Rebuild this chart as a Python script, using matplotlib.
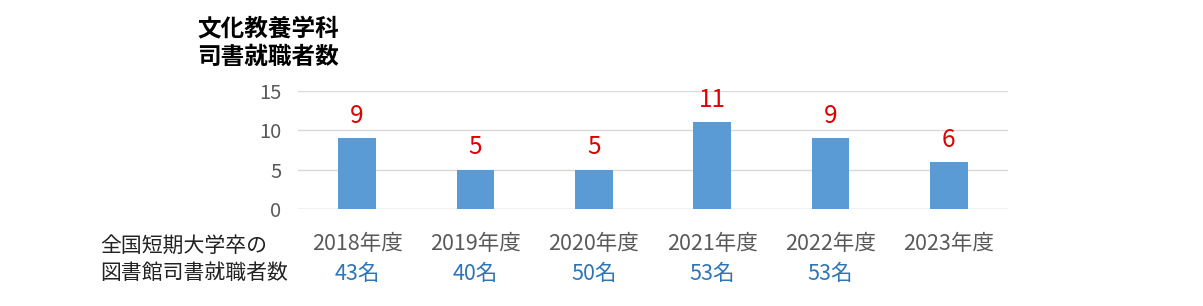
import matplotlib
matplotlib.use("Agg")
import matplotlib.pyplot as plt

plt.rcParams['font.family'] = ['Noto Sans CJK JP', 'DejaVu Sans']

years = ["2018年度", "2019年度", "2020年度", "2021年度", "2022年度", "2023年度"]
counts = [9, 5, 5, 11, 9, 6]
national = ["43名", "40名", "50名", "53名", "53名", ""]
yticks = [0, 5, 10, 15]

W, H = 1203, 306
fig = plt.figure(figsize=(W / 100, H / 100), dpi=100)
ax = fig.add_axes([298 / W, 1 - 209 / H, 710 / W, 118 / H])

x = list(range(len(years)))
ax.bar(x, counts, width=0.32, color="#5B9BD5", zorder=3)
ax.set_xlim(-0.5, len(years) - 0.5)
ax.set_ylim(0, 15)
ax.set_yticks(yticks)
ax.set_yticklabels([str(t) for t in yticks], fontsize=14.5, color="#595959")
ax.tick_params(axis='y', length=0, pad=12)
ax.set_xticks([])
ax.grid(axis='y', color="#D9D9D9", linewidth=1, zorder=0)
for s in ax.spines.values():
    s.set_visible(False)
ax.axhline(0, color="#D9D9D9", linewidth=1, zorder=1)

for xi, c in zip(x, counts):
    ax.annotate(str(c), (xi, c), xytext=(0, 16), textcoords="offset points",
                ha="center", va="center", color="#E00000", fontsize=17.5)

for xi, yl, nl in zip(x, years, national):
    ax.annotate(yl, (xi, 0), xytext=(0, -25.5), textcoords="offset points",
                ha="center", va="center", color="#595959", fontsize=15.5,
                annotation_clip=False)
    if nl:
        ax.annotate(nl, (xi, 0), xytext=(0, -46.5), textcoords="offset points",
                    ha="center", va="center", color="#2E75B6", fontsize=15.5,
                    annotation_clip=False)

fig.text(197 / W, 1 - 43 / H, "文化教養学科\n司書就職者数", ha="left", va="center",
         fontsize=17, fontweight="bold", color="black", linespacing=1.25)
fig.text(100 / W, 1 - 259 / H, "全国短期大学卒の\n図書館司書就職者数", ha="left", va="center",
         fontsize=15, color="#222222", linespacing=1.3)

fig.savefig("out.png", dpi=100)
